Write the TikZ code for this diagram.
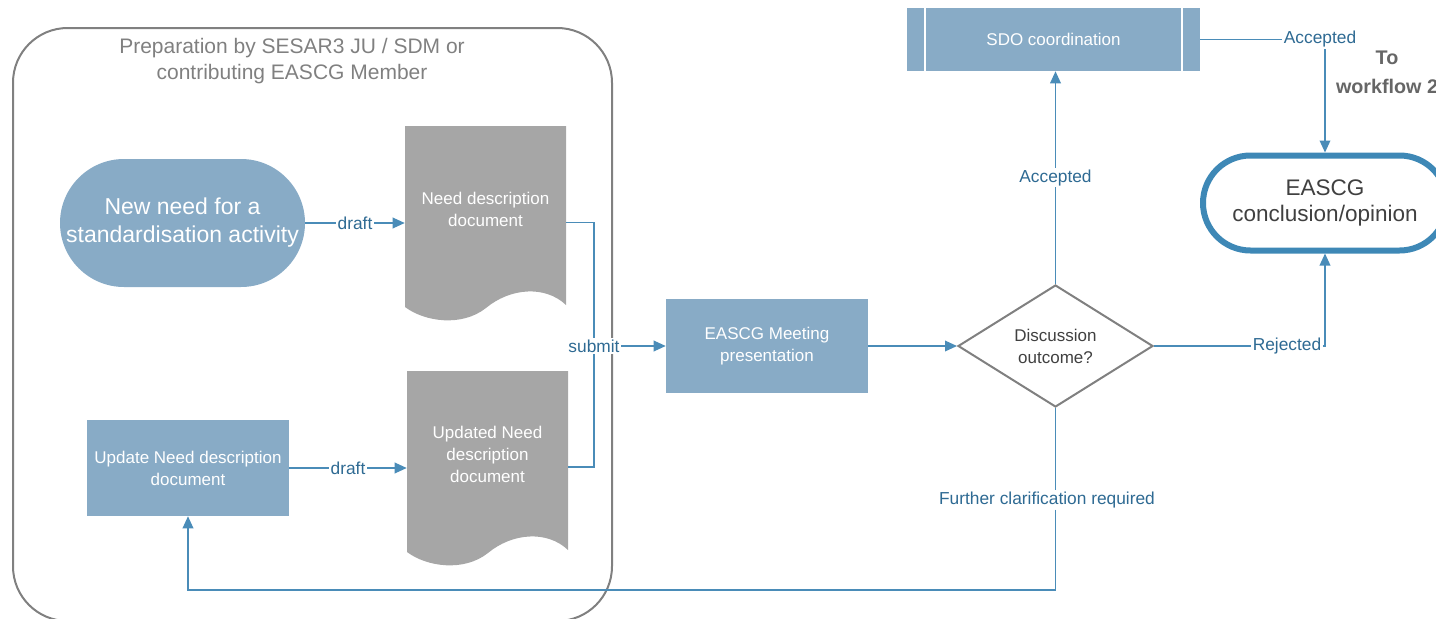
\documentclass[tikz,border=0pt]{standalone}
\usepackage{fontspec}
\setmainfont{Liberation Sans}
\usetikzlibrary{arrows.meta,shapes.geometric}

\definecolor{boxblue}{HTML}{88ABC6}
\definecolor{docgray}{HTML}{A6A6A6}
\definecolor{framegray}{HTML}{808080}
\definecolor{lineblue}{HTML}{4A8CB8}
\definecolor{labelblue}{HTML}{2E6A93}
\definecolor{termblue}{HTML}{3E88B6}
\definecolor{darktext}{HTML}{404040}

\tikzset{
  proc/.style={fill=boxblue, text=white, align=center, inner sep=0pt,
    font=\fontsize{12.75}{16.5}\selectfont},
  conn/.style={draw=lineblue, line width=1pt},
  arr/.style={conn, -{Triangle[length=9pt,width=8pt]}},
  lbl/.style={fill=white, text=labelblue, inner sep=1pt,
    font=\fontsize{13}{15}\selectfont},
}

\begin{document}
\begin{tikzpicture}[x=0.75pt, y=-0.75pt]
  \useasboundingbox (0,0) rectangle (1436,618);

  % preparation frame
  \draw[framegray, line width=1.5pt, rounded corners=41pt] (13,28) rectangle (612,621);
  \node[text=framegray, align=center, font=\fontsize{15.75}{19.5}\selectfont] (prep) at (292,61.5)
    {Preparation by SESAR3 JU / SDM or\\contributing EASCG Member};

  % document shapes
  \foreach \dx/\dy in {0/0, 2/245}
    \fill[docgray, shift={(\dx,\dy)}] (405,126) -- (566,126) -- (566,305)
      .. controls (545,285) and (510,288) .. (486,308)
      .. controls (462,327) and (425,322) .. (405,307) -- cycle;

  % nodes
  \node[proc, rounded corners=48pt, minimum width=183.75pt, minimum height=96pt,
    font=\fontsize{17.25}{21}\selectfont] (start) at (182.5,223)
    {New need for a\\standardisation activity};
  \node[align=center, text=white, inner sep=0pt, minimum width=120.75pt, minimum height=127.5pt,
    font=\fontsize{12.75}{16.5}\selectfont] (doc1) at (485.5,209)
    {Need description\\document};
  \node[align=center, text=white, inner sep=0pt, minimum width=120.75pt, minimum height=127.5pt,
    font=\fontsize{12.75}{16.5}\selectfont] (doc2) at (487.5,454)
    {Updated Need\\description\\document};
  \node[proc, minimum width=151.5pt, minimum height=72pt] (upd) at (188,468)
    {Update Need description\\document};
  \node[proc, minimum width=151.5pt, minimum height=70.5pt] (meet) at (767,346)
    {EASCG Meeting\\presentation};
  \node[diamond, draw=framegray, line width=1.5pt, fill=white, text=darktext, align=center,
    inner sep=0pt, aspect=1.6, minimum width=146.25pt, minimum height=91.5pt,
    font=\fontsize{12.75}{16.5}\selectfont] (dia) at (1055.5,346)
    {Discussion\\outcome?};
  \node[proc, minimum width=219.75pt, minimum height=47.25pt] (sdo) at (1053.5,39.5)
    {SDO coordination};
  \draw[white, line width=1.5pt] ([xshift=13.5pt]sdo.north west) -- ([xshift=13.5pt]sdo.south west);
  \draw[white, line width=1.5pt] ([xshift=-13.5pt]sdo.north east) -- ([xshift=-13.5pt]sdo.south east);
  \node[draw=termblue, line width=4.5pt, fill=white, rounded corners=35.6pt, text=darktext,
    align=center, inner sep=0pt, minimum width=183pt, minimum height=71.25pt,
    font=\fontsize{16.9}{19.5}\selectfont] (ter) at (1325,203)
    {EASCG\\conclusion/opinion};
  \node[text=darktext!80, align=center, font=\bfseries\fontsize{14.8}{21.75}\selectfont] (wf) at (1387,72)
    {To\\workflow 2};

  % labels on connectors
  \node[lbl] (sub) at (594,346) {submit};
  \node[lbl] (rej) at (1287,346) {Rejected};
  \node[lbl] (acc) at (1320,39.5) {Accepted};
  \node[lbl] (fur) at (1047,500) {Further clarification required};
  \coordinate (back) at (188,590);

  % connectors
  \draw[arr] (start.east) -- (start.east -| doc1.west) node[lbl, midway] {draft};
  \draw[arr] (upd.east) -- (upd.east -| doc2.west) node[lbl, midway] {draft};
  \draw[conn] ([yshift=-10pt]doc1.east) -| (sub.north);
  \draw[conn] ([yshift=-9.75pt]doc2.east) -| (sub.south);
  \draw[arr] (sub.east) -- (meet.west);
  \draw[arr] (meet.east) -- (dia.west);
  \draw[arr] (dia.north) -- (dia.north |- sdo.south) node[lbl, midway] {Accepted};
  \draw[conn] (sdo.east) -- (acc.west);
  \draw[arr] (acc.south -| ter.north) -- (ter.north);
  \draw[conn] (dia.east) -- (rej.west);
  \draw[arr] (rej.east) -| (ter.south);
  \draw[conn] (dia.south) -- (dia.south |- fur.north);
  \draw[arr] (dia.south |- fur.south) |- (back) -- (upd.south);
\end{tikzpicture}
\end{document}
